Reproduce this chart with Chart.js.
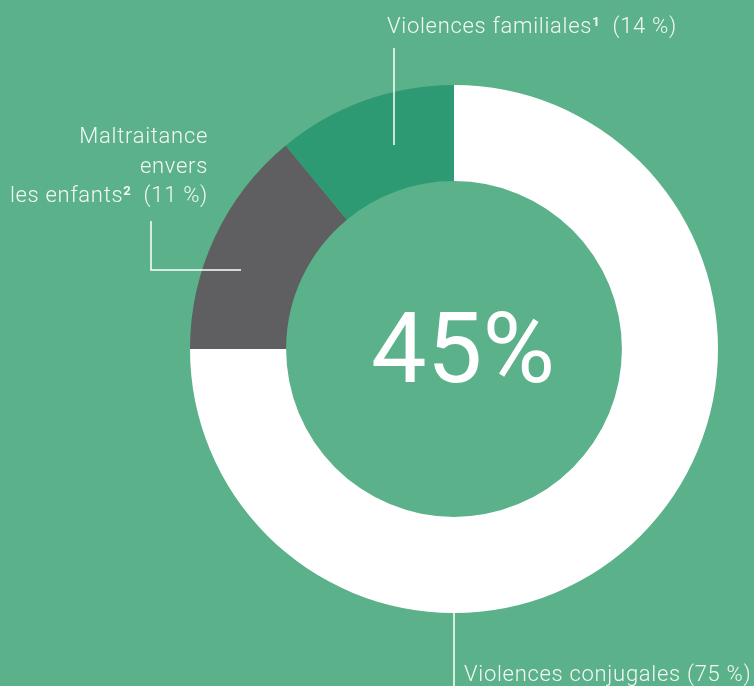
<!DOCTYPE html>
<html>
<head>
<meta charset="utf-8">
<script src="https://cdn.jsdelivr.net/npm/chart.js@4/dist/chart.umd.min.js"></script>
<style>
html,body{margin:0;padding:0;background:#5BB18A;}
#wrap{width:754px;height:686px;position:relative;}
</style>
</head>
<body>
<div id="wrap"><canvas id="c" width="754" height="686"></canvas></div>
<script>
// Data (as drawn in the picture)
const categories = ["Violences conjugales", "Maltraitance envers les enfants", "Violences familiales"];
const values = [75, 14, 11];
const labelPercents = ["75 %", "11 %", "14 %"];
const centerLabel = "45%";
const colors = ["#FFFFFF", "#5F5F62", "#2E9A73"];

const FONT = "Roboto, 'DejaVu Sans', sans-serif";
const LABEL_FONT = "300 22px " + FONT;
const SUP_FONT = "700 13px " + FONT;

function drawRuns(ctx, runs, x, y, align) {
  // runs: [{text, font, dy}]
  let total = 0;
  runs.forEach(r => { ctx.font = r.font; r.w = ctx.measureText(r.text).width; total += r.w; });
  let px = align === 'right' ? x - total : x;
  ctx.textAlign = 'left';
  runs.forEach(r => { ctx.font = r.font; ctx.fillText(r.text, px, y + (r.dy || 0)); px += r.w; });
}

const annot = {
  id: 'annot',
  afterDraw(chart) {
    const ctx = chart.ctx;
    const arc = chart.getDatasetMeta(0).data[0];
    const cx = arc.x, cy = arc.y, R = arc.outerRadius;
    ctx.save();
    // center text
    ctx.fillStyle = '#FFFFFF';
    ctx.font = "400 99px " + FONT;
    ctx.textAlign = 'center';
    ctx.textBaseline = 'alphabetic';
    ctx.fillText(centerLabel, cx + 9, cy + 33);

    ctx.strokeStyle = '#FFFFFF';
    ctx.lineWidth = 1.5;
    ctx.fillStyle = '#F2F8F4';
    ctx.letterSpacing = '0.7px';

    // Violences familiales
    ctx.beginPath();
    ctx.moveTo(cx - 60, 48);
    ctx.lineTo(cx - 60, cy - R + 60);
    ctx.stroke();
    drawRuns(ctx, [
      {text: "Violences familiales", font: LABEL_FONT},
      {text: "1", font: SUP_FONT, dy: -7},
      {text: "  (" + labelPercents[2] + ")", font: LABEL_FONT}
    ], cx - 67, 33, 'left');

    // Maltraitance
    ctx.beginPath();
    ctx.moveTo(151, 221);
    ctx.lineTo(151, 270);
    ctx.lineTo(241, 270);
    ctx.stroke();
    drawRuns(ctx, [{text: "Maltraitance", font: LABEL_FONT}], 208, 143, 'right');
    drawRuns(ctx, [{text: "envers", font: LABEL_FONT}], 208, 173, 'right');
    drawRuns(ctx, [
      {text: "les enfants", font: LABEL_FONT},
      {text: "2", font: SUP_FONT, dy: -7},
      {text: "  (" + labelPercents[1] + ")", font: LABEL_FONT}
    ], 208, 202, 'right');

    // Violences conjugales
    ctx.beginPath();
    ctx.moveTo(cx, cy + R);
    ctx.lineTo(cx, 686);
    ctx.stroke();
    drawRuns(ctx, [{text: "Violences conjugales (" + labelPercents[0] + ")", font: LABEL_FONT}], cx + 10, 681, 'left');
    ctx.restore();
  }
};

new Chart(document.getElementById('c'), {
  type: 'doughnut',
  data: {
    labels: categories,
    datasets: [{
      data: values,
      backgroundColor: colors,
      borderWidth: 0,
      hoverOffset: 0
    }]
  },
  options: {
    responsive: false,
    animation: false,
    cutout: '63.6%',
    rotation: 0,
    layout: { padding: { left: 190, right: 36, top: 85, bottom: 73 } },
    plugins: { legend: { display: false }, tooltip: { enabled: false } },
    events: []
  },
  plugins: [annot]
});
</script>
</body>
</html>
